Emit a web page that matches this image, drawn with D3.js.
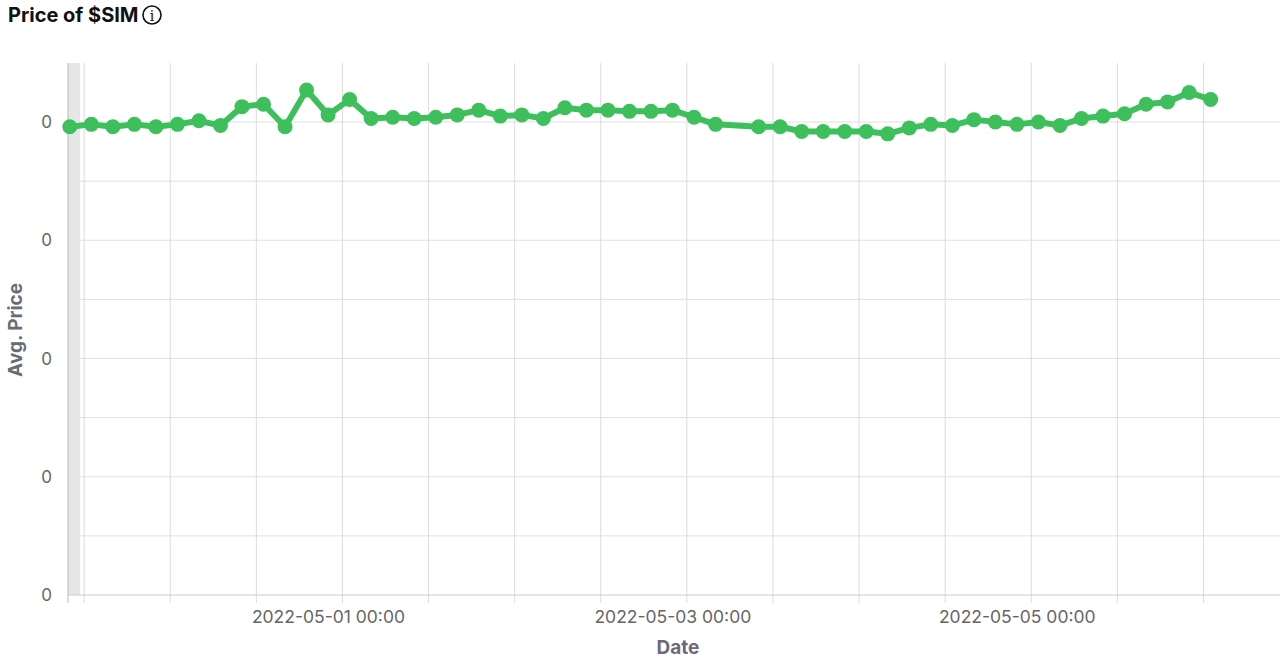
<!DOCTYPE html>
<html><head><meta charset="utf-8">
<script src="https://cdn.jsdelivr.net/npm/d3@7"></script>
<style>body{margin:0;background:#fff;font-family:Inter,"Noto Sans",sans-serif}</style>
</head><body><svg id="c" width="1280" height="665"></svg>
<script>
const startTime = "2022-04-29T10:00:00";
const stepHours = 3;
const missingIndex = [31];
const prices = [396,398,396,398,396,398,401,397,413,415,396,427,406,419,403,404,403,404,406,410,405,406,403,412,410,410,409,409,410,404,398,
  396,396,392,392,392,392,390,395,398,397,402,400,398,400,397,403,405,407,415,417,425,419].map(v=>v*1e-6);
const yTicks = [0,1e-4,2e-4,3e-4,4e-4];
const xTickLabels = ["2022-05-01 00:00","2022-05-03 00:00","2022-05-05 00:00"];

const parse = d3.timeParse("%Y-%m-%dT%H:%M:%S");
const t0 = parse(startTime);
const data = [];
let k = 0;
for (let i = 0; data.length < prices.length; i++) {
  if (missingIndex.includes(i)) continue;
  data.push({t: d3.timeHour.offset(t0, i*stepHours), v: prices[k++]});
}
const svg = d3.select("#c");
const L=68, R=1280, T=63, B=595;
const x = d3.scaleTime().domain([parse("2022-04-29T09:45:00"), parse("2022-05-06T10:40:00")]).range([L,R]);
const y = d3.scaleLinear().domain([0,4.5e-4]).range([B, B-(B-122)/4e-4*4.5e-4]);

const grid = svg.append("g");
const halfTicks = d3.range(0,4.5e-4,0.5e-4);
grid.selectAll(".h").data(halfTicks.filter(v=>v>0)).join("line")
  .attr("x1",L).attr("x2",R).attr("y1",d=>y(d)).attr("y2",d=>y(d)).attr("stroke","#e0e0e0");
const vt = x.ticks(d3.timeHour.every(12));
grid.selectAll(".v").data(vt).join("line")
  .attr("x1",d=>x(d)).attr("x2",d=>x(d)).attr("y1",T).attr("y2",B+8).attr("stroke","#dcdcdc");
svg.append("rect").attr("x",L).attr("y",T).attr("width",12).attr("height",B-T).attr("fill","#e6e6e6");
svg.append("line").attr("x1",L).attr("x2",L).attr("y1",T).attr("y2",B+8).attr("stroke","#bbb");
svg.append("line").attr("x1",L).attr("x2",R).attr("y1",B).attr("y2",B).attr("stroke","#ccc");

svg.selectAll(".yl").data(yTicks).join("text").attr("x",52).attr("y",d=>y(d)+6)
  .attr("text-anchor","end").attr("font-size",17).attr("fill","#666").text(d=>d3.format(".0f")(d));
const xt = xTickLabels.map(s=>d3.timeParse("%Y-%m-%d %H:%M")(s));
svg.selectAll(".xl").data(xt).join("text").attr("x",d=>x(d)-14).attr("y",623)
  .attr("text-anchor","middle").attr("font-size",17.5).attr("fill","#666").text(d=>d3.timeFormat("%Y-%m-%d %H:%M")(d));

svg.append("text").attr("x",678).attr("y",654).attr("text-anchor","middle").attr("font-size",19)
  .attr("font-weight","bold").attr("fill","#6b6b78").text("Date");
svg.append("text").attr("transform","translate(22,330) rotate(-90)").attr("text-anchor","middle")
  .attr("font-size",19).attr("font-weight","bold").attr("fill","#6b6b78").text("Avg. Price");

svg.append("text").attr("x",8).attr("y",22).attr("font-size",20).attr("font-weight","bold").attr("fill","#111").text("Price of $SIM");
svg.append("circle").attr("cx",152).attr("cy",15).attr("r",9).attr("fill","none").attr("stroke","#111").attr("stroke-width",1.6);
svg.append("text").attr("x",152).attr("y",20.5).attr("text-anchor","middle").attr("font-size",14).attr("font-family","DejaVu Serif").attr("fill","#111").text("i");

const g = svg.append("g");
g.append("path").datum(data).attr("fill","none").attr("stroke","#3dbf5c").attr("stroke-width",6)
  .attr("stroke-linejoin","round").attr("d",d3.line().x(d=>x(d.t)).y(d=>y(d.v)));
g.selectAll("circle").data(data).join("circle").attr("cx",d=>x(d.t)).attr("cy",d=>y(d.v)).attr("r",7.5).attr("fill","#3dbf5c");
</script></body></html>
